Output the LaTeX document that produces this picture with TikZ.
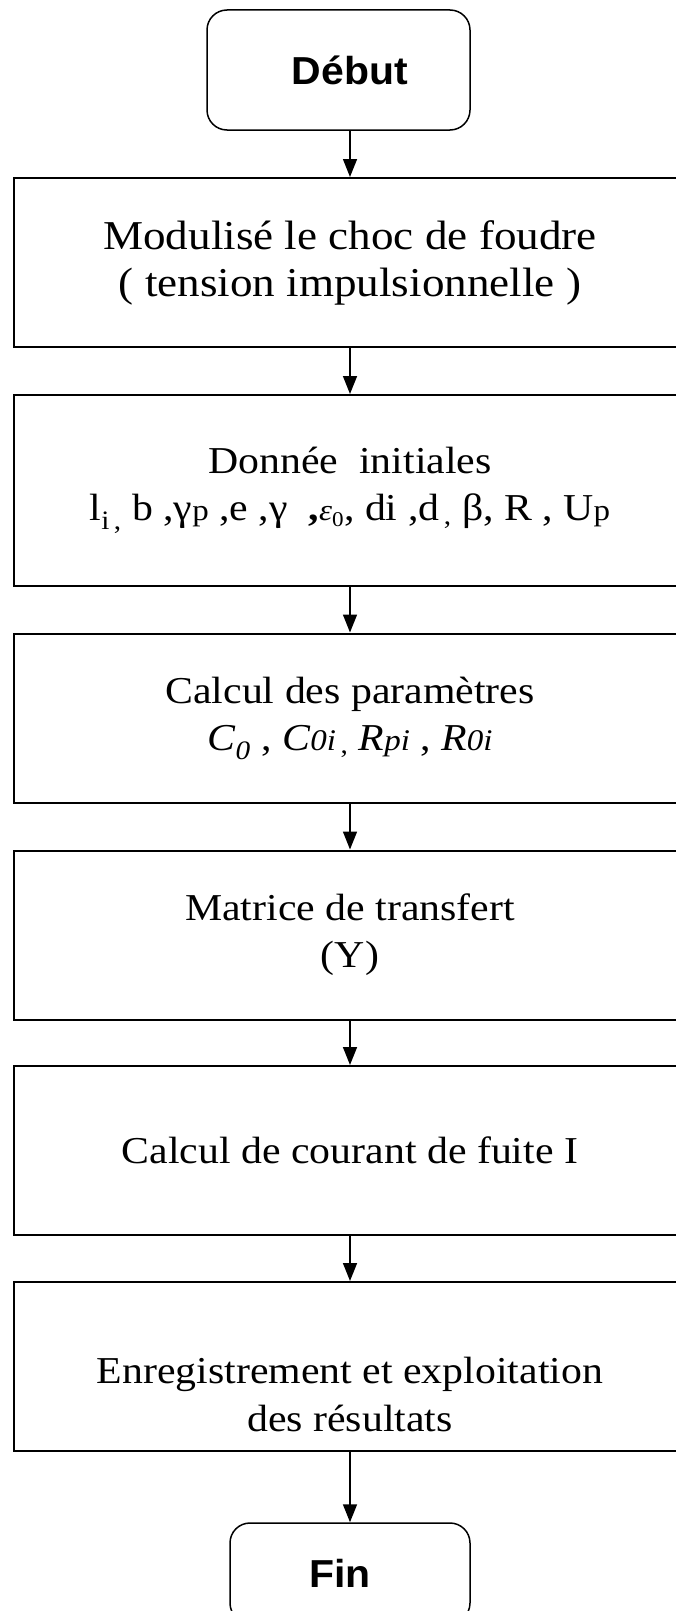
\documentclass[tikz,border=0pt]{standalone}
\usepackage{amsmath}
\usepackage{fontspec}
\setmainfont[FakeStretch=1.1]{Liberation Serif}
\newfontfamily\termfont[FakeStretch=1.05]{Liberation Sans}
\usepackage{tikz}
\usetikzlibrary{shapes,arrows.meta,positioning}

\newcommand{\sm}[1]{{\fontsize{30}{32}\selectfont #1}}

\begin{document}
\begin{tikzpicture}[
    x=1pt, y=-1pt,
    stepbox/.style={rectangle, draw, line width=2pt, minimum width=672pt, minimum height=169pt, align=center, font=\fontsize{38}{47}\selectfont},
    steptext/.style={align=center, font=\fontsize{38}{48}\selectfont},
    term/.style={rectangle, draw, rounded corners=20pt, line width=1.5pt, minimum width=263pt, minimum height=120pt, font=\termfont\bfseries\fontsize{39}{42}\selectfont},
    arrow/.style={-{Triangle[length=18pt,width=14pt]}, line width=1.5pt}
]
\useasboundingbox (0,0) rectangle (676,1611);
\clip (0,0) rectangle (676,1611);

\node[term] (debut) at (338.5,70) {\hspace*{23pt}Début};
\node[stepbox, font=\fontsize{41}{47}\selectfont] (choc) at (350,262.5) {Modulisé le choc de foudre\\( tension impulsionnelle )};
\node[stepbox, minimum height=191pt] (donnee) at (350,490.5) {Donnée~ initiales\\l\textsubscript{i\,,} b ,γ\sm{p} ,e ,γ~ \textbf{,}\sm{\textit{ε}\textsubscript{0}}, di ,d\textsubscript{\,,} β, R , U\sm{p}};
\node[stepbox] (calcul) at (350,718) {Calcul des paramètres\\\textit{C}\textsubscript{\textit{0}} , \textit{C}\sm{\textit{0i}}\textsubscript{\,,} \textit{R}\sm{\textit{pi}} , \textit{R}\sm{\textit{0i}}};
\node[stepbox] (matrice) at (350,935) {Matrice de transfert\\(Y)};
\node[stepbox] (courant) at (350,1150.5) {Calcul de courant de fuite I};
\node[stepbox] (resultat) at (350,1366.5) {};
\node[steptext] (resultattxt) at ([yshift=-28pt]resultat.center) {Enregistrement et exploitation\\des résultats};
\node[term, minimum width=240pt, minimum height=100pt] (fin) at (350,1573) {Fin\hspace*{20pt}};

\draw[arrow] (debut.south -| choc.north) -- (choc.north);
\draw[arrow] (choc) -- (donnee);
\draw[arrow] (donnee) -- (calcul);
\draw[arrow] (calcul) -- (matrice);
\draw[arrow] (matrice) -- (courant);
\draw[arrow] (courant) -- (resultat);
\draw[arrow] (resultat) -- (fin);
\end{tikzpicture}
\end{document}
